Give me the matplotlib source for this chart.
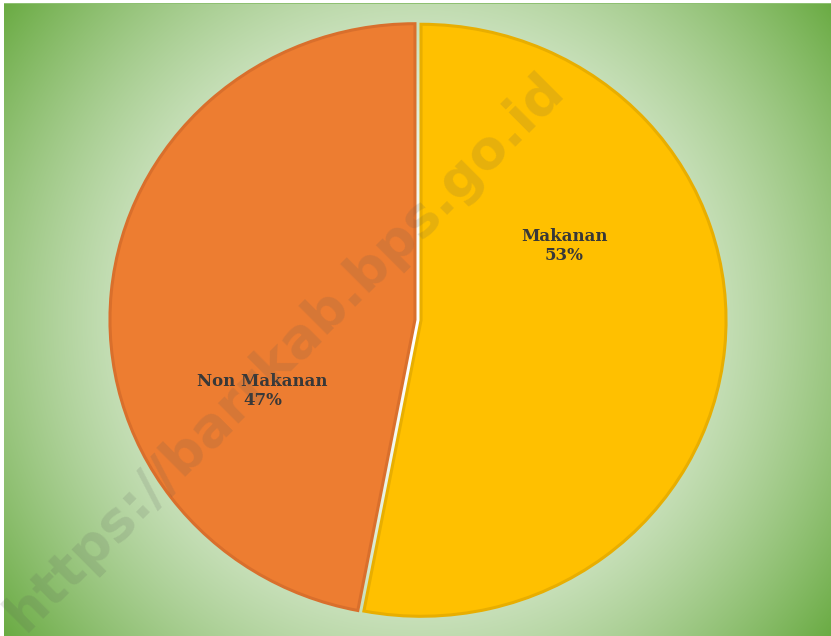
import numpy as np
import matplotlib
matplotlib.use("Agg")
import matplotlib.pyplot as plt

# data
categories = ["Makanan", "Non Makanan"]
shares = [53, 47]
slice_colors = ["#FFC000", "#ED7D31"]
edge_colors = ["#E8AE00", "#D96F2C"]
watermark = "https://barrkab.bps.go.id"

W, H = 831, 636
fig = plt.figure(figsize=(W / 100, H / 100), dpi=100)
fig.patch.set_facecolor("white")

# radial green background (pixel based circle)
bg = fig.add_axes([4 / W, 0, 1 - 4 / W, 1 - 3 / H])
bw, bh = W - 4, H - 3
yy, xx = np.mgrid[0:bh, 0:bw]
cx, cy = bw * 0.5, bh * 0.5
d = np.sqrt((xx - cx) ** 2 + (yy - cy) ** 2)
t = (d / d.max()) ** 1.75
inner = np.array([1.0, 1.0, 1.0])
outer = np.array([0x6A, 0xAB, 0x43]) / 255
img = inner[None, None, :] * (1 - t[..., None]) + outer[None, None, :] * t[..., None]
img[0:1, :, :] = np.array([0x8F, 0xC0, 0x72]) / 255
bg.imshow(img, aspect="auto", interpolation="bilinear")
bg.axis("off")

# pie
ax = fig.add_axes([0, 0, 1, 1])
ax.patch.set_alpha(0)
wedges, _ = ax.pie(shares, colors=slice_colors, startangle=90, counterclock=False,
                   explode=[0.01, 0.01],
                   wedgeprops=dict(linewidth=2.2))
for w, ec in zip(wedges, edge_colors):
    w.set_edgecolor(ec)
ax.set_aspect("auto")
ax.set_xlim(-418 / 305, (W - 418) / 305)
ax.set_ylim(-316 / 296, (H - 316) / 296)
ax.axis("off")

label_pos = [(0.48, 0.25), (-0.51, -0.24)]
for name, val, (lx, ly) in zip(categories, shares, label_pos):
    ax.text(lx, ly, f"{name}\n{val}%", ha="center", va="center",
            fontsize=12, fontweight="bold",
            family=["DejaVu Serif Condensed", "DejaVu Serif"],
            color="#383838", linespacing=1.1)

# watermark
fig.text(285 / W, 1 - 352 / H, watermark, rotation=45, rotation_mode="anchor",
         ha="center", va="center", fontsize=39, fontweight="bold",
         family="DejaVu Sans", color="#555555", alpha=0.15)

fig.savefig("out.png", dpi=100)
